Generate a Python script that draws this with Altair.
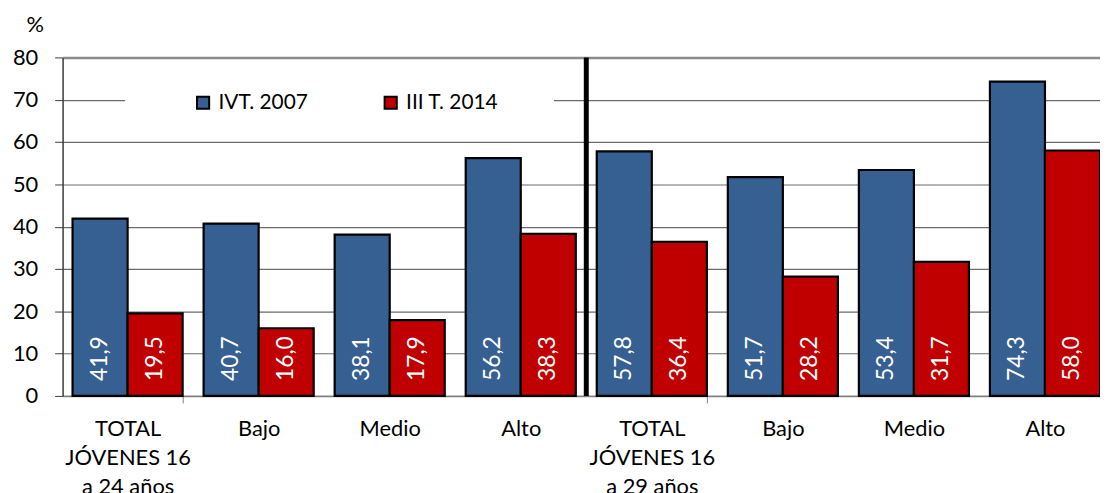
import altair as alt
import pandas as pd

# ---- data ----
categories = ["TOTAL|JÓVENES 16|a 24 años", "Bajo", "Medio", "Alto",
              "TOTAL|JÓVENES 16|a 29 años", "Bajo", "Medio", "Alto"]
series = ["IVT. 2007", "III T. 2014"]
ivt_2007 = [41.9, 40.7, 38.1, 56.2, 57.8, 51.7, 53.4, 74.3]
iii_2014 = [19.5, 16.0, 17.9, 38.3, 36.4, 28.2, 31.7, 58.0]
y_ticks = [0, 10, 20, 30, 40, 50, 60, 70, 80]
colors = ["#376092", "#C00000"]
divider_before = [4]  # vertical separator between the two age groups

rows = []
for i in range(len(categories)):
    rows.append({"cat": i, "serie": series[0], "value": ivt_2007[i]})
    rows.append({"cat": i, "serie": series[1], "value": iii_2014[i]})
df = pd.DataFrame(rows)

FONT = "Lato"
FS = 22
PI = 0.16
PO = 0.038
W = 1045
H = 341
STEP = W / (len(categories) - PI + 2 * PO)
GAP_HALF = STEP * PI / 2

arr = "[" + ",".join("'" + c + "'" for c in categories) + "]"
label_expr = f"isDefined({arr}[datum.value]) ? split({arr}[datum.value], '|') : ''"

x_enc = alt.X(
    "cat:O",
    scale=alt.Scale(paddingInner=PI, paddingOuter=PO, align=1),
    axis=alt.Axis(
        title=None, labelExpr=label_expr, labelAngle=0, labelFont=FONT,
        labelFontSize=FS, labelColor="black", labelLineHeight=29,
        labelPadding=16, tickBand="extent", tickSize=7, tickColor="#808080",
        tickOpacity={"expr": "datum.value % 4 == 0 ? 1 : 0"},
        domainColor="#808080", domainWidth=1.5, grid=False, labelLimit=300,
    ),
)
xoff = alt.XOffset("serie:N", sort=series, scale=alt.Scale(paddingInner=0, paddingOuter=0))

y_enc = alt.Y(
    "value:Q",
    scale=alt.Scale(domain=[0, 80], nice=False),
    axis=alt.Axis(
        values=y_ticks, title="%", titleAngle=0, titleX=-28, titleY=-33,
        titleAlign="center", titleBaseline="middle", titleFont=FONT,
        titleFontSize=FS, titleFontWeight="normal", titleColor="black",
        labelFont=FONT, labelFontSize=FS, labelColor="black", labelPadding=17,
        tickSize=8, tickColor="#404040", domainColor="#404040", domainWidth=1.5,
        grid=True,
        gridColor={"expr": "datum.value == 80 ? '#8c8c8c' : '#6b6b6b'"},
        gridWidth={"expr": "datum.value == 80 ? 2.5 : 1.2"},
    ),
)

pad_right = "\u2800\u2009\u2800\u2800"

bars = alt.Chart(df).mark_bar(stroke="black", strokeWidth=2.2).encode(
    x=x_enc,
    xOffset=xoff,
    y=y_enc,
    color=alt.Color(
        "serie:N", sort=series,
        scale=alt.Scale(domain=series, range=colors),
        legend=alt.Legend(
            orient="none", legendX=63, legendY=27, direction="horizontal",
            title=" ", titleOrient="left", titlePadding=60, titleFontSize=21,
            padding=8, fillColor="white", symbolType="square", symbolSize=150,
            symbolStrokeColor="black", symbolStrokeWidth=2, labelFont=FONT,
            labelFontSize=21, labelColor="black", labelOffset=5,
            columnPadding=72, labelLimit=400,
            labelExpr=f"datum.label == '{series[1]}' ? datum.label + '{pad_right}' : datum.label",
        ),
    ),
)

labels = alt.Chart(df).transform_calculate(
    txt="replace(format(datum.value, '.1f'), '.', ',')"
).mark_text(
    angle=270, align="left", baseline="middle", dx=15, color="white",
    font=FONT, fontSize=23,
).encode(
    x=alt.X("cat:O"),
    xOffset=xoff,
    y=alt.datum(0),
    text="txt:N",
)

rule = alt.Chart(pd.DataFrame({"cat": divider_before})).mark_rule(
    color="black", strokeWidth=5
).encode(
    x=alt.X("cat:O"),
    xOffset=alt.value(-GAP_HALF),
    y=alt.datum(0),
    y2=alt.datum(80),
)

chart = alt.layer(bars, rule, labels).properties(
    width=W, height=H,
    autosize=alt.AutoSizeParams(type="none"),
    padding={"left": 55, "top": 48, "right": 0, "bottom": 96},
).configure_view(stroke=None).configure(background="white")

chart.save("out.html", embed_options={"renderer": "svg", "actions": False})
